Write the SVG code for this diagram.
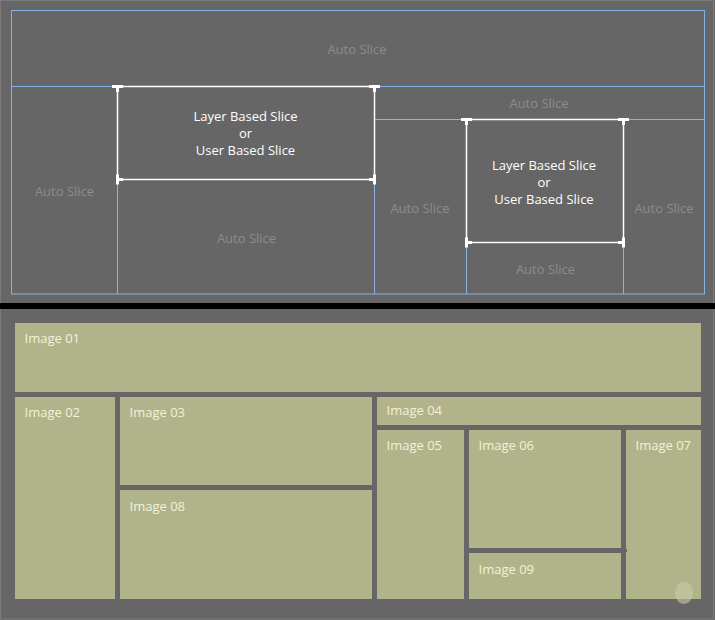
<svg xmlns="http://www.w3.org/2000/svg" xmlns:xlink="http://www.w3.org/1999/xlink" width="715" height="620" viewBox="0 0 715 620">
<style>
text{font-family:"Open Sans","Noto Sans","Liberation Sans",sans-serif;font-size:13px}
.auto{fill:#8c8c8c;text-anchor:middle}
.user{fill:#ffffff;text-anchor:middle}
.img{fill:#b1b48b}
.lbl{fill:#f3f1d8}
.blue{stroke:#84b0ec;stroke-width:1;fill:none}
.blue2{stroke:#8fb2dc;stroke-width:1;fill:none}
.white{stroke:#ffffff;stroke-width:1.5;fill:none}
.mk{fill:#ffffff}
</style>
<defs>
<path id="tl" d="M-5.5,-1.5h11v3h-4v4h-3v-4h-4z"/>
<path id="bl" d="M-1.5,-5h3v3.5h4v3h-4v3.5h-3z"/>
<path id="br" d="M1.5,-5h-3v3.5h-4v3h4v3.5h3z"/>
</defs>
<rect x="0" y="0" width="715" height="620" fill="#666666"/>
<rect x="0.5" y="0.5" width="713" height="618.5" fill="none" stroke="#7a7a7a" stroke-width="1"/>
<rect x="0" y="303" width="715" height="6" fill="#000000"/>

<g id="slice-lines">
  <rect class="blue" x="11.5" y="10.5" width="693" height="283.5"/>
  <line class="blue" x1="11.5" y1="86.5" x2="117" y2="86.5"/>
  <line class="blue" x1="374" y1="86.5" x2="704" y2="86.5"/>
  <line x1="374" y1="119.5" x2="462" y2="119.5" stroke="#e08ad6" stroke-width="1"/>
  <line class="blue" x1="623" y1="119.5" x2="704" y2="119.5"/>
  <line class="blue2" x1="117.5" y1="179" x2="117.5" y2="294"/>
  <line class="blue2" x1="374.5" y1="179" x2="374.5" y2="294"/>
  <line class="blue2" x1="466.5" y1="242" x2="466.5" y2="294"/>
  <line class="blue2" x1="623.5" y1="242" x2="623.5" y2="294"/>
</g>

<g id="auto-slices">
  <text class="auto" x="357" y="53.5">Auto Slice</text>
  <text class="auto" x="64.5" y="195.5">Auto Slice</text>
  <text class="auto" x="246.5" y="242.5">Auto Slice</text>
  <text class="auto" x="420" y="212.5">Auto Slice</text>
  <text class="auto" x="539" y="107.5">Auto Slice</text>
  <text class="auto" x="545.5" y="273.5">Auto Slice</text>
  <text class="auto" x="664" y="212.5">Auto Slice</text>
</g>

<g id="user-slice-1">
  <rect class="white" x="117.5" y="86.5" width="257" height="93"/>
  <use href="#tl" x="117.5" y="86.5" class="mk"/>
  <use href="#tl" x="374.5" y="86.5" class="mk"/>
  <use href="#bl" x="117.5" y="179.5" class="mk"/>
  <use href="#br" x="374.5" y="179.5" class="mk"/>
  <text class="user" x="245.5" y="120.5">Layer Based Slice</text>
  <text class="user" x="245.5" y="137.5">or</text>
  <text class="user" x="245.5" y="154.5">User Based Slice</text>
</g>

<g id="user-slice-2">
  <rect class="white" x="466.5" y="119.5" width="157" height="123"/>
  <use href="#tl" x="466.5" y="119.5" class="mk"/>
  <use href="#tl" x="623.5" y="119.5" class="mk"/>
  <use href="#bl" x="466.5" y="242.5" class="mk"/>
  <use href="#br" x="623.5" y="242.5" class="mk"/>
  <text class="user" x="544" y="170">Layer Based Slice</text>
  <text class="user" x="544" y="187">or</text>
  <text class="user" x="544" y="204">User Based Slice</text>
</g>

<g id="image-01"><rect class="img" x="15" y="323" width="686" height="69"/><text class="lbl" x="24.5" y="342.5">Image 01</text></g>
<g id="image-02"><rect class="img" x="15" y="397" width="100" height="202"/><text class="lbl" x="24.5" y="416.5">Image 02</text></g>
<g id="image-03"><rect class="img" x="120" y="397" width="252" height="88"/><text class="lbl" x="129.5" y="416.5">Image 03</text></g>
<g id="image-08"><rect class="img" x="120" y="490" width="252" height="109"/><text class="lbl" x="129.5" y="510.5">Image 08</text></g>
<g id="image-04"><rect class="img" x="377" y="397" width="324" height="28"/><text class="lbl" x="386.5" y="415">Image 04</text></g>
<g id="image-05"><rect class="img" x="377" y="430" width="87" height="169"/><text class="lbl" x="386.5" y="449.5">Image 05</text></g>
<g id="image-06"><rect class="img" x="469" y="430" width="152" height="118"/><text class="lbl" x="478.5" y="449.5">Image 06</text></g>
<g id="image-09"><rect class="img" x="469" y="553" width="152" height="46"/><text class="lbl" x="478.5" y="573.5">Image 09</text></g>
<g id="image-07"><rect class="img" x="626" y="430" width="75" height="169"/><text class="lbl" x="635.5" y="449.5">Image 07</text></g>
<rect x="621" y="549" width="6" height="3" fill="#666666"/>
<ellipse cx="684" cy="593" rx="9" ry="11" fill="#c6c9a8" opacity="0.6"/>
</svg>
